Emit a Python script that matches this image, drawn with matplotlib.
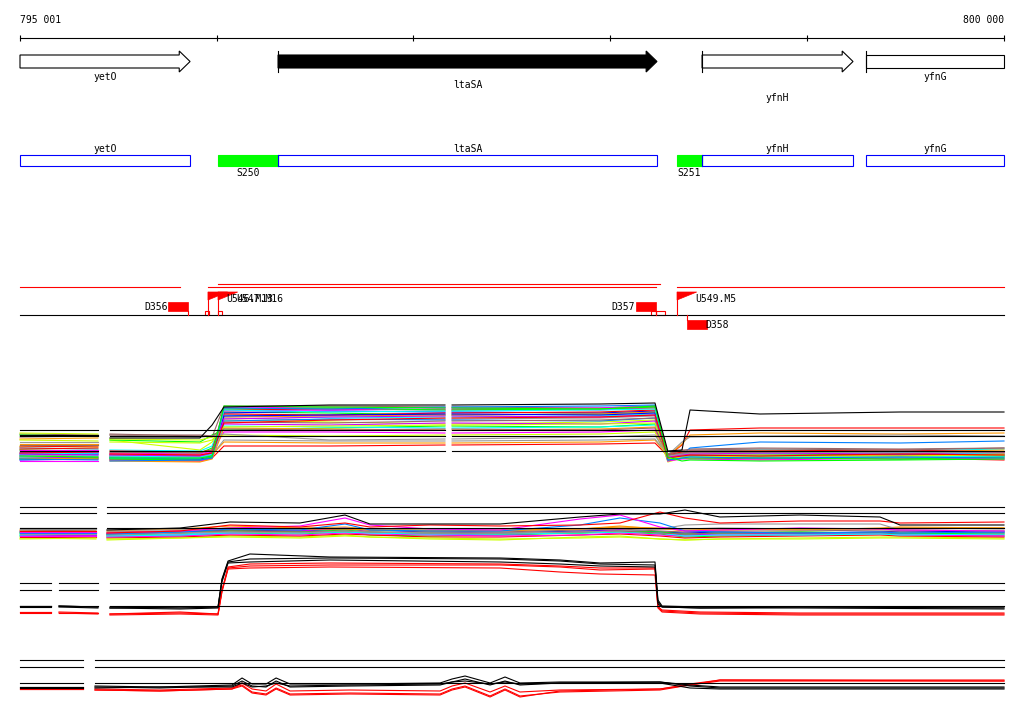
import numpy as np
import matplotlib
matplotlib.use("Agg")
import matplotlib.pyplot as plt
from matplotlib.patches import Polygon, Rectangle

# ---------------- data ----------------
RANGE_START, RANGE_END = 795001, 800000
RULER_TICKS = [795001, 796000, 797000, 798000, 799000, 800000]

GENE_NAMES = ["yetO", "ltaSA", "yfnH", "yfnG"]
GENE_START = [795001, 796312, 798466, 799299]
GENE_END = [795865, 798237, 799233, 800000]
GENE_FILLED = [False, True, False, False]
GENE_ARROW = [True, True, True, False]
GENE_START_BAR = [False, True, True, True]

SITE_NAMES = ["S250", "S251"]
SITE_START = [796007, 798339]
SITE_END = [796312, 798466]

TU_START = [795001, 796007, 795956, 798339]
TU_END = [795814, 798252, 798232, 800000]

TERM_NAMES = ["D356", "D357", "D358"]
TERM_START = [795753, 798130, 798390]
TERM_END = [795854, 798232, 798491]
TERM_ABOVE = [True, True, False]

PROM_NAMES = ["U546.M13", "U547.M16", "U549.M5"]
PROM_POS = [795956, 796007, 798339]

MARK_START = [795941, 796007, 798207, 798232]
MARK_END = [795961, 796027, 798232, 798278]

# expression panel 1
P1_X = [795001, 795397, 795458, 795915, 795977, 796037, 796575, 797160,
        797196, 797948, 798227, 798292, 798364, 798405, 798760, 799472, 800000]
P1_SEG = [(0, 2), (2, 8), (8, 17)]
P1_REF = [40, 34, 19]
P1_COLORS = ["red", "lime", "blue", "magenta", "cyan", "yg", "orange", "gray",
             "brown", "dodger", "purple", "red", "orange", "gray", "magenta",
             "lime", "yg", "cyan", "red", "blue", "magenta", "lime", "brown",
             "orange", "cyan", "purple", "yg", "gray", "dodger", "brown", "red",
             "lime", "black"]
P1_Y = [
    [12, 13, 14, 13, 15, 60, 61, 60, 60, 61, 62, 14, 12, 12, 11, 12, 10],
    [20, 19, 18, 17, 22, 58, 57, 55, 55, 56, 58, 10, 14, 15, 17, 16, 18],
    [15, 16, 13, 12, 14, 57, 59, 58, 58, 57, 59, 12, 15, 15, 14, 13, 15],
    [18, 18, 16, 15, 18, 62, 63, 62, 62, 60, 63, 13, 16, 17, 18, 17, 16],
    [22, 21, 20, 19, 24, 55, 52, 53, 53, 54, 56, 15, 17, 19, 20, 19, 21],
    [24, 23, 30, 20, 28, 50, 48, 46, 46, 48, 50, 8, 12, 12, 13, 14, 13],
    [31, 32, 16, 15, 17, 53, 54, 55, 55, 56, 58, 14, 18, 18, 19, 18, 20],
    [14, 15, 12, 11, 14, 52, 50, 51, 51, 52, 54, 11, 14, 15, 16, 15, 17],
    [36, 35, 36, 34, 33, 64, 64, 63, 63, 62, 64, 16, 19, 21, 22, 21, 22],
    [17, 16, 15, 14, 16, 49, 51, 50, 50, 49, 52, 12, 15, 22, 28, 27, 29],
    [13, 12, 11, 10, 13, 46, 45, 47, 47, 46, 49, 9, 13, 12, 12, 11, 12],
    [23, 24, 10, 9, 12, 24, 24, 25, 25, 26, 27, 14, 25, 40, 42, 42, 42],
    [26, 26, 14, 13, 15, 28, 27, 27, 27, 28, 30, 14, 26, 35, 37, 36, 37],
    [19, 20, 13, 13, 15, 30, 29, 29, 29, 30, 31, 15, 28, 33, 34, 35, 34],
    [20, 20, 17, 16, 19, 38, 38, 37, 37, 38, 40, 13, 16, 17, 17, 18, 17],
    [35, 34, 30, 28, 35, 40, 42, 44, 44, 43, 46, 11, 13, 14, 15, 16, 15],
    [37, 36, 31, 30, 33, 35, 34, 35, 35, 36, 38, 10, 12, 12, 13, 12, 14],
    [16, 17, 14, 13, 16, 44, 43, 42, 42, 43, 45, 12, 14, 15, 16, 17, 16],
    [21, 22, 19, 18, 20, 56, 55, 57, 57, 58, 60, 15, 18, 19, 19, 20, 18],
    [10, 11, 12, 11, 14, 54, 55, 56, 56, 55, 57, 11, 13, 14, 14, 15, 14],
    [9, 9, 10, 9, 12, 59, 60, 61, 61, 62, 64, 9, 11, 11, 10, 12, 11],
    [11, 12, 11, 10, 13, 61, 62, 60, 60, 61, 63, 10, 12, 12, 12, 11, 13],
    [25, 25, 18, 17, 20, 48, 47, 49, 49, 50, 52, 16, 20, 20, 21, 20, 22],
    [12, 11, 9, 8, 11, 42, 41, 40, 40, 41, 43, 12, 15, 15, 15, 14, 16],
    [13, 14, 12, 12, 14, 60, 58, 59, 59, 60, 61, 11, 13, 13, 14, 13, 14],
    [16, 15, 15, 14, 17, 51, 53, 54, 54, 53, 55, 13, 15, 16, 17, 16, 18],
    [30, 29, 28, 27, 30, 43, 44, 45, 45, 46, 47, 11, 13, 13, 14, 14, 15],
    [28, 28, 35, 33, 34, 36, 30, 31, 31, 33, 35, 14, 16, 17, 18, 17, 18],
    [11, 10, 9, 10, 12, 62, 61, 63, 63, 64, 65, 10, 12, 13, 12, 13, 12],
    [33, 34, 35, 35, 34, 41, 40, 41, 41, 40, 42, 15, 17, 18, 18, 19, 18],
    [17, 18, 16, 15, 17, 47, 50, 52, 52, 53, 55, 12, 14, 15, 14, 16, 15],
    [14, 13, 12, 12, 14, 64, 63, 62, 62, 61, 64, 13, 9, 10, 9, 10, 11],
    [35, 35, 32, 32, 45, 63, 65, 65, 65, 66, 67, 19, 20, 60, 56, 58, 58],
]

# expression panel 2
P2_X = [795001, 795387, 795443, 795814, 796068, 796423, 796652, 796779, 797084,
        797440, 797846, 798049, 798252, 798379, 798557, 798963, 799370, 799472, 800000]
P2_SEG = [(0, 2), (2, 19)]
P2_REF = [38, 32, 17]
P2_COLORS = ["lime", "cyan", "yg", "orange", "blue", "brown", "purple", "red",
             "lime", "magenta", "gray", "cyan", "orange", "brown", "yg",
             "gray", "dodger", "magenta", "red", "black"]
P2_Y = [
    [9, 10, 8, 9, 12, 11, 13, 10, 9, 10, 12, 13, 11, 8, 9, 10, 11, 10, 9],
    [11, 12, 10, 11, 13, 12, 14, 12, 11, 12, 13, 14, 12, 10, 11, 11, 12, 11, 12],
    [7, 6, 5, 7, 9, 8, 10, 8, 6, 5, 8, 9, 6, 5, 6, 7, 8, 8, 7],
    [15, 14, 14, 16, 19, 17, 18, 16, 15, 14, 16, 19, 16, 15, 16, 15, 17, 18, 17],
    [13, 12, 11, 13, 15, 14, 16, 15, 13, 12, 14, 15, 13, 12, 13, 12, 13, 14, 13],
    [14, 15, 13, 14, 15, 15, 16, 15, 14, 13, 15, 16, 14, 13, 14, 14, 15, 15, 14],
    [10, 10, 9, 10, 12, 14, 17, 13, 11, 10, 13, 15, 12, 10, 11, 12, 12, 11, 10],
    [8, 8, 7, 8, 10, 9, 11, 10, 8, 8, 10, 11, 9, 7, 8, 9, 10, 9, 8],
    [12, 11, 10, 12, 14, 13, 15, 13, 12, 11, 12, 14, 13, 11, 12, 13, 12, 12, 11],
    [9, 9, 8, 9, 11, 10, 12, 11, 10, 9, 10, 12, 10, 9, 10, 10, 11, 10, 9],
    [16, 16, 15, 15, 17, 16, 17, 16, 16, 15, 16, 17, 16, 16, 17, 16, 16, 17, 16],
    [10, 11, 9, 10, 12, 12, 13, 12, 11, 11, 12, 13, 12, 9, 10, 10, 11, 10, 11],
    [13, 13, 12, 14, 17, 16, 16, 15, 14, 15, 16, 18, 17, 14, 15, 16, 16, 17, 17],
    [12, 12, 11, 12, 14, 13, 14, 13, 12, 12, 13, 14, 12, 11, 12, 12, 13, 13, 12],
    [6, 7, 6, 7, 8, 7, 9, 8, 7, 6, 7, 8, 6, 5, 6, 6, 7, 7, 6],
    [11, 11, 10, 12, 13, 12, 14, 13, 12, 12, 13, 14, 16, 20, 21, 21, 21, 15, 14],
    [12, 12, 11, 13, 16, 15, 21, 15, 14, 14, 20, 27, 22, 14, 13, 12, 13, 12, 13],
    [13, 13, 12, 14, 17, 19, 27, 20, 16, 15, 26, 30, 18, 14, 15, 17, 16, 15, 14],
    [14, 14, 12, 14, 20, 18, 22, 18, 20, 19, 20, 22, 33, 27, 22, 24, 24, 22, 23],
    [17, 17, 15, 17, 23, 22, 30, 21, 21, 21, 28, 31, 31, 35, 28, 30, 28, 20, 20],
]

# expression panel 3
P3_X = [795001, 795158, 795199, 795397, 795458, 795814, 796007, 796027, 796058, 796169,
        796575, 797440, 797744, 797948, 798227, 798242, 798263, 798456, 798963, 800000]
P3_SEG = [(0, 2), (2, 4), (4, 20)]
P3_REF = [37, 30, 14]
P3_COLORS = ["red", "red", "red", "black", "black", "black"]
P3_Y = [
    [8, 8, 8, 7, 6, 7, 6, 30, 52, 54, 55, 55, 53, 50, 51, 14, 9, 7, 6, 6],
    [7, 7, 7, 6, 5, 6, 5, 28, 51, 52, 53, 52, 48, 46, 45, 12, 8, 6, 5, 5],
    [8, 8, 7, 7, 6, 8, 6, 29, 53, 56, 57, 56, 54, 52, 52, 13, 10, 8, 7, 7],
    [14, 14, 14, 13, 13, 12, 13, 40, 58, 61, 62, 61, 59, 56, 55, 18, 13, 12, 12, 11],
    [13, 13, 13, 12, 12, 11, 12, 38, 57, 58, 60, 58, 56, 54, 53, 16, 13, 12, 13, 12],
    [14, 14, 14, 13, 12, 13, 13, 41, 59, 66, 63, 62, 60, 57, 58, 20, 14, 13, 13, 13],
]

# expression panel 4
P4_X = [795001, 795321, 795382, 795712, 796078, 796129, 796180, 796251, 796302, 796373,
        796677, 797135, 797196, 797262, 797389, 797465, 797541, 797744, 798252, 798405,
        798557, 800000]
P4_SEG = [(0, 2), (2, 22)]
P4_REF = [40, 33, 17]
P4_COLORS = ["red", "red", "red", "black", "black", "black"]
P4_Y = [
    [11, 11, 10, 9, 11, 17, 11, 9, 16, 9, 10, 9, 14, 17, 8, 14, 8, 10, 11, 15, 19, 19],
    [12, 12, 11, 10, 12, 15, 8, 6, 12, 6, 7, 6, 11, 14, 4, 11, 4, 8, 10, 15, 20, 20],
    [11, 11, 10, 9, 11, 14, 7, 5, 11, 5, 6, 5, 10, 13, 3, 10, 3, 9, 11, 16, 20, 19],
    [13, 13, 14, 13, 15, 22, 16, 16, 22, 16, 16, 17, 21, 24, 17, 23, 17, 18, 18, 15, 13, 13],
    [13, 13, 13, 12, 14, 19, 14, 13, 19, 13, 14, 15, 18, 21, 15, 19, 15, 17, 17, 12, 11, 11],
    [12, 12, 12, 13, 13, 17, 13, 14, 17, 14, 15, 16, 18, 19, 16, 18, 16, 17, 18, 14, 12, 12],
]

PALETTE = {"red": "#ff0000", "lime": "#00ff00", "blue": "#0000ff", "magenta": "#ff00ff",
           "cyan": "#00ffff", "yg": "#ccff00", "orange": "#ff9900", "gray": "#999999",
           "brown": "#996666", "dodger": "#0080ff", "purple": "#cc00ff", "black": "#000000"}

# ---------------- layout ----------------
W, H = 1024, 714
PX_L, PX_R = 20, 1004
K = (RANGE_END - RANGE_START) / (PX_R - PX_L)
XL = RANGE_START - PX_L * K
XR = RANGE_START + (W - PX_L) * K

plt.rcParams["font.family"] = ["DejaVu Sans Mono"]
FS = 7
fig = plt.figure(figsize=(W / 100, H / 100), dpi=100)
fig.patch.set_facecolor("white")
ax = fig.add_axes([0, 0, 1, 1])
ax.set_xlim(XL, XR)
ax.set_ylim(H, 0)
ax.axis("off")

LW = 0.8

# ruler
ax.plot([RANGE_START, RANGE_END], [38, 38], color="black", lw=LW)
ax.vlines(RULER_TICKS, 35, 41, color="black", lw=LW)
ax.text(RANGE_START, 20, f"{RANGE_START:,}".replace(",", " "), ha="left", va="center", fontsize=FS)
ax.text(RANGE_END, 20, f"{RANGE_END:,}".replace(",", " "), ha="right", va="center", fontsize=FS)

# genes (arrows)
HEAD = 55
LABEL_ROW = [76.5, 85, 98, 76.5]
for name, s, e, filled, arrow, bar, ly in zip(GENE_NAMES, GENE_START, GENE_END, GENE_FILLED,
                                              GENE_ARROW, GENE_START_BAR, LABEL_ROW):
    if arrow:
        pts = [(s, 55), (e - HEAD, 55), (e - HEAD, 51), (e, 61.5), (e - HEAD, 72), (e - HEAD, 68), (s, 68)]
    else:
        pts = [(s, 55), (e, 55), (e, 68), (s, 68)]
    ax.add_patch(Polygon(pts, closed=True, facecolor="black" if filled else "white",
                         edgecolor="black", lw=LW))
    if bar:
        ax.plot([s, s], [51, 72], color="black", lw=LW)
    ax.text((s + e) / 2, ly, name, ha="center", va="center", fontsize=FS)

# second row: gene boxes and sites
for name, s, e in zip(GENE_NAMES, GENE_START, GENE_END):
    ax.add_patch(Rectangle((s, 155), e - s, 11, facecolor="white", edgecolor="#0000ff", lw=LW))
    ax.text((s + e) / 2, 149, name, ha="center", va="center", fontsize=FS)
for name, s, e in zip(SITE_NAMES, SITE_START, SITE_END):
    ax.add_patch(Rectangle((s, 155), e - s, 11, facecolor="#00ff00", edgecolor="#00ff00", lw=LW, zorder=3))
    ax.text((s + e) / 2, 172.5, name, ha="center", va="center", fontsize=FS)
for name, s in zip(GENE_NAMES, GENE_START):
    if name in ("ltaSA", "yfnH"):
        ax.plot([s, s], [155, 166], color="#0000ff", lw=LW, zorder=4)

# transcription units
TU_Y = [287, 284.3, 287, 287]
for s, e, y in zip(TU_START, TU_END, TU_Y):
    ax.plot([s, e], [y, y], color="red", lw=LW)

# baseline
ax.plot([RANGE_START, RANGE_END], [315, 315], color="black", lw=LW)

# terminators
for name, s, e, above in zip(TERM_NAMES, TERM_START, TERM_END, TERM_ABOVE):
    if above:
        ax.add_patch(Rectangle((s, 302), e - s, 8.5, facecolor="red", edgecolor="red", lw=0.5))
        ax.plot([e, e], [310.5, 315], color="red", lw=LW)
        ax.text(s - 3, 306.5, name, ha="right", va="center", fontsize=FS)
    else:
        ax.add_patch(Rectangle((s, 320), e - s, 8.5, facecolor="red", edgecolor="red", lw=0.5))
        ax.plot([s, s], [315, 320], color="red", lw=LW)
        ax.text(e - 10, 324.5, name, ha="left", va="center", fontsize=FS)

# promoters (flags)
FLAG_W = 100
for name, p in zip(PROM_NAMES, PROM_POS):
    ax.plot([p, p], [292, 315], color="red", lw=LW)
    ax.add_patch(Polygon([(p, 292), (p + FLAG_W, 292), (p, 300)], closed=True,
                         facecolor="red", edgecolor="red", lw=0.5))
    ax.text(p + FLAG_W - 5, 298.5, name, ha="left", va="center", fontsize=FS)

for s, e in zip(MARK_START, MARK_END):
    ax.add_patch(Rectangle((s, 311), e - s, 4, facecolor="none", edgecolor="red", lw=LW))


# expression panels
def panel(top_px, bottom_px, xs, ys, colors, segs, refs):
    pax = fig.add_axes([0, 1 - bottom_px / H, 1, (bottom_px - top_px) / H])
    pax.set_xlim(XL, XR)
    pax.set_ylim(0, bottom_px - top_px)
    pax.axis("off")
    xs = np.asarray(xs)
    for yv, c in zip(ys, colors):
        yv = np.asarray(yv, dtype=float)
        for a, b in segs:
            pax.plot(xs[a:b], yv[a:b], color=PALETTE[c], lw=LW)
    for r in refs:
        for a, b in segs:
            pax.plot([xs[a], xs[b - 1]], [r, r], color="black", lw=LW, zorder=5)
    return pax


panel(395, 470, P1_X, P1_Y, P1_COLORS, P1_SEG, P1_REF)
panel(500, 545, P2_X, P2_Y, P2_COLORS, P2_SEG, P2_REF)
panel(548, 620, P3_X, P3_Y, P3_COLORS, P3_SEG, P3_REF)
panel(655, 700, P4_X, P4_Y, P4_COLORS, P4_SEG, P4_REF)

fig.savefig("out.png", dpi=100, facecolor="white")
